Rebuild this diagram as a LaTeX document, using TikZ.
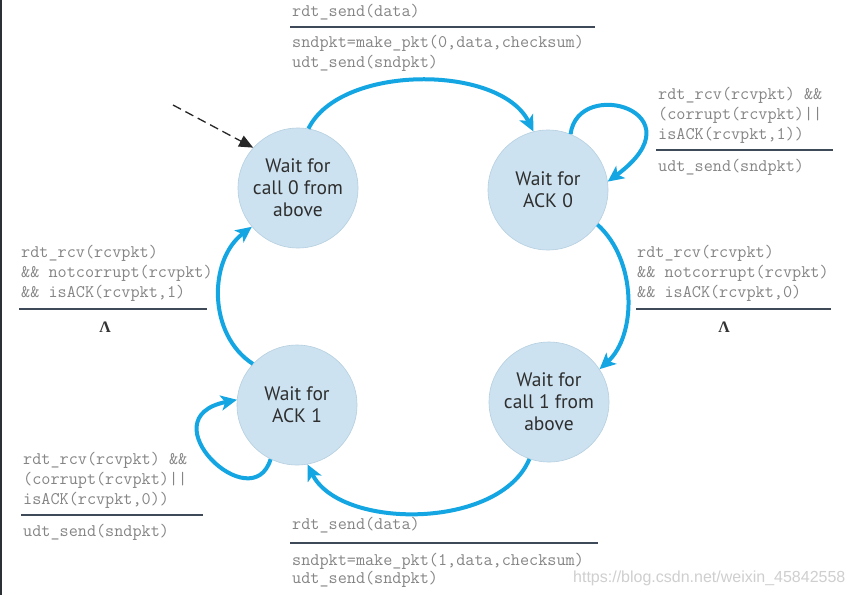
\documentclass[tikz,border=0pt]{standalone}
\usepackage{fontspec}
\setmainfont{PT Sans}
\newfontfamily\lamfont{Liberation Serif}
\newfontfamily\wmfont{Liberation Sans}
\usetikzlibrary{arrows.meta}
\definecolor{stfill}{HTML}{CCE2F0}
\definecolor{stline}{HTML}{B5CFE0}
\definecolor{arrblue}{HTML}{14A6E2}
\definecolor{codegray}{HTML}{858585}
\definecolor{rulec}{HTML}{3E4A58}
\definecolor{statetext}{HTML}{2E2E2E}
\definecolor{wmark}{HTML}{CFCFCF}
\definecolor{edgec}{HTML}{2B3036}
\begin{document}
\begin{tikzpicture}[x=1pt,y=-1pt,
  state/.style={circle, minimum size=120pt, inner sep=0pt, fill=stfill, draw=stline, line width=0.6pt,
    text=statetext, align=center, font=\fontsize{19.5}{22}\selectfont},
  code/.style={anchor=mid west, inner sep=0pt, text=codegray, font=\ttfamily\fontsize{17.7}{20}\selectfont},
  rulel/.style={draw=rulec, line width=1.8pt},
  trans/.style={draw=arrblue, line width=4pt, -{Stealth[length=16pt,width=15pt,inset=4pt]}},
  lam/.style={inner sep=0pt, text=black!80, font=\lamfont\bfseries\fontsize{16}{16}\selectfont},
  initarr/.style={draw=black!85, line width=1.3pt, dash pattern=on 9pt off 5pt, -{Triangle[length=14pt,width=12pt]}},
]
\useasboundingbox (0,0) rectangle (854,595);
\fill[white] (0,0) rectangle (854,595);
\fill[edgec] (0,0) rectangle (2,595);

% states
\node[state] (c0) at (298,188) {Wait for\\call 0 from\\above};
\node[state] (a0) at (548,190) {Wait for\\ACK 0};
\node[state] (c1) at (549,402) {Wait for\\call 1 from\\above};
\node[state] (a1) at (297,405) {Wait for\\ACK 1};

% initial arrow
\coordinate (init) at (173,105);
\draw[initarr] (init) -- (c0.138);

% transitions
\draw[trans] (c0.80) .. controls (340,64) and (500,64) .. (a0.104);
\draw[trans] (a0.68) .. controls (578,76) and (702,112) .. (a0.8);
\draw[trans] (a0.-35) .. controls (637,260) and (637,335) .. (c1.33);
\draw[trans] (c1.-109) .. controls (500,530) and (340,530) .. (a1.-80);
\draw[trans] (a1.-116) .. controls (252,520) and (146,418) .. (a1.175);
\draw[trans] (a1.137) .. controls (208,335) and (208,260) .. (c0.-140);

% top label
\node[code] (t1) at (292,14) {rdt\_send(data)};
\draw[rulel] (290,27) -- (595,27);
\node[code] (t2) at (292,45) {sndpkt=make\_pkt(0,data,checksum)};
\node[code] (t3) at (292,65) {udt\_send(sndpkt)};

% top-right label
\node[code] (r1) at (658,97) {rdt\_rcv(rcvpkt) \&\&};
\node[code] (r2) at (658,117) {(corrupt(rcvpkt)||};
\node[code] (r3) at (658,137) {isACK(rcvpkt,1))};
\draw[rulel] (656,150) -- (833,150);
\node[code] (r4) at (658,169) {udt\_send(sndpkt)};

% right label
\node[code] (m1) at (637,255) {rdt\_rcv(rcvpkt)};
\node[code] (m2) at (637,275) {\&\& notcorrupt(rcvpkt)};
\node[code] (m3) at (637,295) {\&\& isACK(rcvpkt,0)};
\draw[rulel] (636,309) -- (831,309);
\node[lam] (ml) at (724,327) {Λ};

% left label
\node[code] (l1) at (21,255) {rdt\_rcv(rcvpkt)};
\node[code] (l2) at (21,275) {\&\& notcorrupt(rcvpkt)};
\node[code] (l3) at (21,295) {\&\& isACK(rcvpkt,1)};
\draw[rulel] (19,309) -- (207,309);
\node[lam] (ll) at (105,327) {Λ};

% bottom-left label
\node[code] (b1) at (23,462) {rdt\_rcv(rcvpkt) \&\&};
\node[code] (b2) at (23,482) {(corrupt(rcvpkt)||};
\node[code] (b3) at (23,502) {isACK(rcvpkt,0))};
\draw[rulel] (21,515) -- (203,515);
\node[code] (b4) at (23,534) {udt\_send(sndpkt)};

% bottom label
\node[code] (s1) at (292,527) {rdt\_send(data)};
\draw[rulel] (290,543) -- (598,543);
\node[code] (s2) at (292,563) {sndpkt=make\_pkt(1,data,checksum)};
\node[code] (s3) at (292,581) {udt\_send(sndpkt)};

% watermark
\node[anchor=mid west, inner sep=0pt, text=wmark, font=\wmfont\fontsize{16}{16}\selectfont] (wm) at (573,580) {https://blog.csdn.net/weixin\_45842558};
\end{tikzpicture}
\end{document}
